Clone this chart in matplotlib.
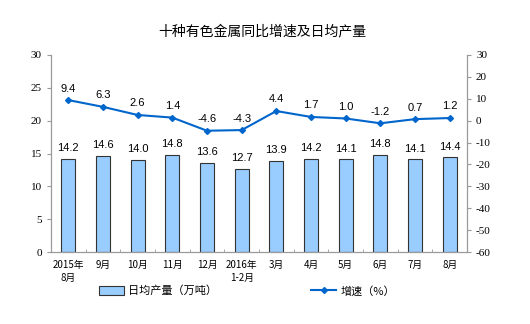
import matplotlib
matplotlib.use("Agg")
import matplotlib.pyplot as plt
import numpy as np

plt.rcParams['font.family'] = ['Noto Sans CJK SC', 'DejaVu Sans']
plt.rcParams['axes.unicode_minus'] = False

# 数据
months = ["2015年\n8月", "9月", "10月", "11月", "12月", "2016年\n1-2月",
          "3月", "4月", "5月", "6月", "7月", "8月"]
output = [14.2, 14.6, 14.0, 14.8, 13.6, 12.7, 13.9, 14.2, 14.1, 14.8, 14.1, 14.4]
growth = [9.4, 6.3, 2.6, 1.4, -4.6, -4.3, 4.4, 1.7, 1.0, -1.2, 0.7, 1.2]

bar_color = "#99CCFF"
line_color = "#0066CC"

fig = plt.figure(figsize=(5.3, 3.24), dpi=100)
ax = fig.add_axes([51 / 530, 1 - 252 / 324, 416 / 530, 197 / 324])
ax2 = ax.twinx()

x = np.arange(len(months))
bars = ax.bar(x, output, width=0.4, color=bar_color, edgecolor="#333333", linewidth=0.8,
              label="日均产量（万吨）")
for xi, v in zip(x, output):
    ax.text(xi, v + 0.9, f"{v:.1f}", ha="center", va="bottom", fontsize=8,
            family="Liberation Sans")

ax2.plot(x, growth, color=line_color, marker="D", markersize=3, linewidth=1.5,
         label="增速（%）")
for xi, v in zip(x, growth):
    ax2.text(xi, v + 3.0, f"{v:.1f}", ha="center", va="bottom", fontsize=8,
             family="Liberation Sans")

ax.set_xlim(-0.5, len(months) - 0.5)
ax.set_ylim(0, 30)
ax.set_yticks(range(0, 31, 5))
ax2.set_ylim(-60, 30)
ax2.set_yticks(range(-60, 31, 10))

ax.set_xticks(x)
ax.set_xticklabels(months, fontsize=7, linespacing=1.3)
ax.set_xticks(np.arange(-0.5, len(months), 1), minor=True)
ax.tick_params(axis="x", which="major", length=0, pad=6)
ax.tick_params(axis="x", which="minor", length=2, direction="in", color="#999999")

for a in (ax, ax2):
    a.spines["top"].set_visible(False)
    for s in ("left", "right", "bottom"):
        a.spines[s].set_color("#999999")
ax.tick_params(axis="y", labelsize=8, length=3, color="#999999",
               labelfontfamily="Liberation Serif")
ax2.tick_params(axis="y", labelsize=8, length=3, color="#999999",
                labelfontfamily="Liberation Serif")

fig.text(262 / 530, 1 - 31 / 324, "十种有色金属同比增速及日均产量", ha="center", va="center",
         fontsize=10)

h1, l1 = ax.get_legend_handles_labels()
h2, l2 = ax2.get_legend_handles_labels()
fig.legend(h1 + h2, l1 + l2, loc="center", bbox_to_anchor=(247 / 530, 1 - 291 / 324),
           ncol=2, frameon=False, fontsize=8, columnspacing=8.5, handlelength=2.2,
           handleheight=0.8, handletextpad=0.4)

fig.savefig("out.png", dpi=100)
